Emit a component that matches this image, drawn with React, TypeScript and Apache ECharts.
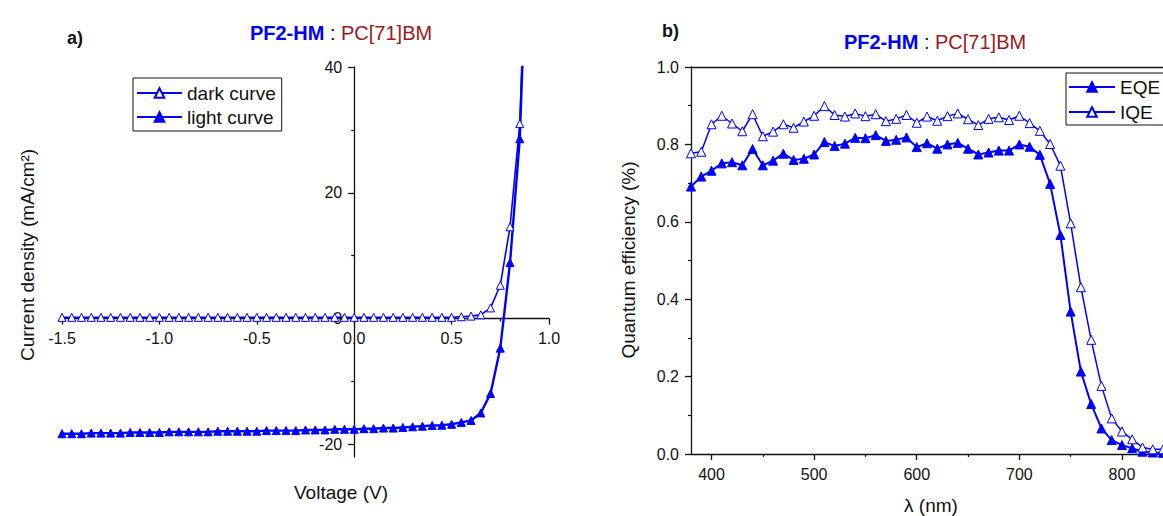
import React, { useEffect, useRef } from 'react';
import * as echarts from 'echarts';

// ---- Panel a) J–V curves ----
const voltage = [
  -1.5, -1.45, -1.4, -1.35, -1.3, -1.25, -1.2, -1.15, -1.1, -1.05,
  -1.0, -0.95, -0.9, -0.85, -0.8, -0.75, -0.7, -0.65, -0.6, -0.55,
  -0.5, -0.45, -0.4, -0.35, -0.3, -0.25, -0.2, -0.15, -0.1, -0.05,
  0.0, 0.05, 0.1, 0.15, 0.2, 0.25, 0.3, 0.35, 0.4, 0.45,
  0.5, 0.55, 0.6, 0.65, 0.7, 0.75, 0.8, 0.85, 0.9,
];
const darkCurve = [
  0.2, 0.2, 0.2, 0.2, 0.2, 0.2, 0.2, 0.2, 0.2, 0.2,
  0.2, 0.2, 0.2, 0.2, 0.2, 0.2, 0.2, 0.2, 0.2, 0.2,
  0.2, 0.2, 0.2, 0.2, 0.2, 0.2, 0.2, 0.2, 0.2, 0.2,
  0.2, 0.2, 0.2, 0.2, 0.2, 0.2, 0.2, 0.2, 0.2, 0.2,
  0.2, 0.3, 0.4, 0.6, 1.7, 5.3, 14.6, 31.0, 76,
];
const lightCurve = [
  -18.3, -18.3, -18.3, -18.2, -18.2, -18.2, -18.2, -18.1, -18.1, -18.1,
  -18.1, -18.0, -18.0, -18.0, -18.0, -18.0, -17.9, -17.9, -17.9, -17.9,
  -17.9, -17.8, -17.8, -17.8, -17.8, -17.7, -17.7, -17.7, -17.6, -17.6,
  -17.6, -17.5, -17.5, -17.4, -17.4, -17.3, -17.2, -17.1, -17.0, -16.95,
  -16.8, -16.5, -16.2, -15.0, -11.9, -4.7, 8.9, 28.6, 72,
];
const ivYTicks = [-20, 0, 20, 40];
const ivYMinorTicks = [-10, 10, 30];

// ---- Panel b) quantum efficiency ----
const wavelength = [
  380, 390, 400, 410, 420, 430, 440, 450, 460, 470,
  480, 490, 500, 510, 520, 530, 540, 550, 560, 570,
  580, 590, 600, 610, 620, 630, 640, 650, 660, 670,
  680, 690, 700, 710, 720, 730, 740, 750, 760, 770,
  780, 790, 800, 810, 820, 830, 840,
];
const eqe = [
  0.691, 0.717, 0.732, 0.751, 0.754, 0.746, 0.788, 0.746, 0.758, 0.776,
  0.760, 0.763, 0.774, 0.806, 0.796, 0.802, 0.817, 0.816, 0.824, 0.809,
  0.812, 0.818, 0.793, 0.803, 0.789, 0.800, 0.804, 0.789, 0.774, 0.779,
  0.784, 0.784, 0.800, 0.794, 0.773, 0.698, 0.566, 0.368, 0.213, 0.129,
  0.066, 0.036, 0.023, 0.015, 0.006, 0.004, 0.003,
];
const iqe = [
  0.777, 0.781, 0.852, 0.874, 0.854, 0.834, 0.878, 0.821, 0.833, 0.852,
  0.843, 0.859, 0.874, 0.899, 0.876, 0.872, 0.880, 0.873, 0.878, 0.860,
  0.866, 0.876, 0.856, 0.872, 0.861, 0.873, 0.880, 0.865, 0.850, 0.866,
  0.870, 0.863, 0.874, 0.855, 0.835, 0.801, 0.745, 0.596, 0.431, 0.295,
  0.176, 0.092, 0.058, 0.038, 0.017, 0.012, 0.012,
];
const qeXTicks = [400, 500, 600, 700, 800];
const qeXMinorTicks = [450, 550, 650, 750];

const BLUE = '#0000ff';
const RED = '#9a1a1a';
const INK = '#111111';
const FONT = '"Liberation Sans", Arial, Helvetica, sans-serif';

// panel a) plot area (axes cross at the origin)
const IV_LEFT = 62;
const IV_WIDTH = 487;
const IV_TOP = 67;
const IV_HEIGHT = 390;
const IV_X = [-1.5, 1.0];
const IV_Y = [-22, 40];

export default function App() {
  const ref = useRef<HTMLDivElement>(null);

  useEffect(() => {
    document.body.style.margin = '0';
    const chart = echarts.init(ref.current as HTMLDivElement, null, { renderer: 'svg' });
    const pairs = (xs: number[], ys: number[]) => xs.map((x, i) => [x, ys[i]]);

    // offsets that put panel a)'s axes through the origin
    const yAxisOffset = -IV_WIDTH * (0 - IV_X[0]) / (IV_X[1] - IV_X[0]);
    const xAxisOffset = -IV_HEIGHT * (0 - IV_Y[0]) / (IV_Y[1] - IV_Y[0]);

    const axisLine = { lineStyle: { color: INK, width: 1.3 } };
    const tickStyle = { lineStyle: { color: INK, width: 1.3 } };
    const minorStyle = { lineStyle: { color: INK, width: 1.2 } };
    const labelStyle = { color: INK, fontSize: 16, fontFamily: FONT, margin: 12 };

    const openTri = { color: '#ffffff', borderColor: BLUE, borderWidth: 1 };
    const fullTri = { color: BLUE, borderColor: BLUE, borderWidth: 1 };

    const titleRich = {
      b: { fontWeight: 'bold', fill: BLUE, fontSize: 20, fontFamily: FONT },
      k: { fill: INK, fontSize: 20, fontFamily: FONT },
      r: { fill: RED, fontSize: 20, fontFamily: FONT },
    };

    const option: any = {
      animation: false,
      backgroundColor: '#ffffff',
      textStyle: { fontFamily: FONT },
      grid: [
        { left: IV_LEFT, width: IV_WIDTH, top: IV_TOP, height: IV_HEIGHT },
        { left: 691, width: 472, top: 67, height: 387 },
      ],
      xAxis: [
        {
          gridIndex: 0, type: 'value', min: IV_X[0], max: IV_X[1], interval: 0.5,
          position: 'bottom', offset: xAxisOffset,
          axisLine: { onZero: false, ...axisLine },
          axisTick: { length: 6, ...tickStyle },
          minorTick: { show: true, splitNumber: 2, length: 3, ...minorStyle },
          axisLabel: { ...labelStyle, formatter: (v: number) => v.toFixed(1) },
          splitLine: { show: false },
        },
        {
          gridIndex: 1, type: 'value', min: 380, max: 840, position: 'bottom',
          axisLine: { onZero: false, ...axisLine },
          axisTick: { customValues: qeXTicks, length: 6, ...tickStyle },
          axisLabel: { ...labelStyle, customValues: qeXTicks },
          splitLine: { show: false },
        },
        {
          gridIndex: 1, type: 'value', min: 380, max: 840, position: 'bottom',
          axisLine: { show: false, onZero: false },
          axisTick: { customValues: qeXMinorTicks, length: 3, ...minorStyle },
          axisLabel: { show: false },
          splitLine: { show: false },
        },
        {
          gridIndex: 1, type: 'value', min: 380, max: 840, position: 'top',
          axisLine: { show: true, onZero: false, ...axisLine },
          axisTick: { show: false },
          axisLabel: { show: false },
          splitLine: { show: false },
        },
      ],
      yAxis: [
        {
          gridIndex: 0, type: 'value', min: IV_Y[0], max: IV_Y[1],
          position: 'left', offset: yAxisOffset,
          axisLine: { onZero: false, ...axisLine },
          axisTick: { customValues: ivYTicks, length: 6, ...tickStyle },
          axisLabel: { ...labelStyle, customValues: ivYTicks },
          splitLine: { show: false },
        },
        {
          gridIndex: 0, type: 'value', min: IV_Y[0], max: IV_Y[1],
          position: 'left', offset: yAxisOffset,
          axisLine: { show: false, onZero: false },
          axisTick: { customValues: ivYMinorTicks, length: 3, ...minorStyle },
          axisLabel: { show: false },
          splitLine: { show: false },
        },
        {
          gridIndex: 1, type: 'value', min: 0, max: 1, interval: 0.2,
          axisLine: { onZero: false, ...axisLine },
          axisTick: { length: 6, ...tickStyle },
          minorTick: { show: true, splitNumber: 2, length: 3, ...minorStyle },
          axisLabel: { ...labelStyle, formatter: (v: number) => v.toFixed(1) },
          splitLine: { show: false },
        },
      ],
      legend: [
        {
          data: ['dark curve', 'light curve'],
          orient: 'vertical', left: 133, top: 78,
          itemWidth: 45, itemHeight: 12, itemGap: 4,
          padding: [5, 6, 4, 3],
          borderColor: INK, borderWidth: 1, borderRadius: 0, backgroundColor: '#ffffff',
          textStyle: { fontSize: 19, fontFamily: FONT, color: INK, lineHeight: 20 },
          selectedMode: false,
        },
        {
          data: ['EQE', 'IQE'],
          orient: 'vertical', left: 1066, top: 73,
          itemWidth: 46, itemHeight: 12, itemGap: 5,
          padding: [4, 40, 3, 2],
          borderColor: INK, borderWidth: 1, borderRadius: 0, backgroundColor: '#ffffff',
          textStyle: { fontSize: 19, fontFamily: FONT, color: INK, lineHeight: 20 },
          selectedMode: false,
        },
      ],
      series: [
        {
          type: 'line', name: 'dark curve', xAxisIndex: 0, yAxisIndex: 0,
          data: pairs(voltage, darkCurve),
          symbol: 'triangle', symbolSize: 8, showSymbol: true, showAllSymbol: true,
          lineStyle: { color: BLUE, width: 1.6 }, itemStyle: openTri,
        },
        {
          type: 'line', name: 'light curve', xAxisIndex: 0, yAxisIndex: 0,
          data: pairs(voltage, lightCurve),
          symbol: 'triangle', symbolSize: 8, showSymbol: true, showAllSymbol: true,
          lineStyle: { color: BLUE, width: 2.4 }, itemStyle: fullTri,
        },
        {
          type: 'line', name: 'EQE', xAxisIndex: 1, yAxisIndex: 2,
          data: pairs(wavelength, eqe),
          symbol: 'triangle', symbolSize: 9, showSymbol: true, showAllSymbol: true,
          lineStyle: { color: BLUE, width: 2 }, itemStyle: fullTri,
        },
        {
          type: 'line', name: 'IQE', xAxisIndex: 1, yAxisIndex: 2,
          data: pairs(wavelength, iqe),
          symbol: 'triangle', symbolSize: 9, showSymbol: true, showAllSymbol: true,
          lineStyle: { color: BLUE, width: 1.5 }, itemStyle: openTri,
        },
      ],
      graphic: [
        {
          type: 'text', x: 341, y: 33,
          style: { text: '{b|PF2-HM}{k| : }{r|PC[71]BM}', rich: titleRich, align: 'center', verticalAlign: 'middle' },
        },
        {
          type: 'text', x: 935, y: 42,
          style: { text: '{b|PF2-HM}{k| : }{r|PC[71]BM}', rich: titleRich, align: 'center', verticalAlign: 'middle' },
        },
        {
          type: 'text', x: 67, y: 38,
          style: { text: 'a)', fontSize: 18, fontWeight: 'bold', fontFamily: FONT, fill: INK, align: 'left', verticalAlign: 'middle' },
        },
        {
          type: 'text', x: 662, y: 31,
          style: { text: 'b)', fontSize: 18, fontWeight: 'bold', fontFamily: FONT, fill: INK, align: 'left', verticalAlign: 'middle' },
        },
        {
          type: 'text', x: 341, y: 492,
          style: { text: 'Voltage (V)', fontSize: 19, fontFamily: FONT, fill: INK, align: 'center', verticalAlign: 'middle' },
        },
        {
          type: 'text', x: 931, y: 505,
          style: { text: 'λ (nm)', fontSize: 19, fontFamily: FONT, fill: INK, align: 'center', verticalAlign: 'middle' },
        },
        {
          type: 'text', x: 27, y: 255, rotation: Math.PI / 2,
          style: { text: 'Current density (mA/cm²)', fontSize: 19, fontFamily: FONT, fill: INK, align: 'center', verticalAlign: 'middle' },
        },
        {
          type: 'text', x: 628, y: 260, rotation: Math.PI / 2,
          style: { text: 'Quantum efficiency (%)', fontSize: 19, fontFamily: FONT, fill: INK, align: 'center', verticalAlign: 'middle' },
        },
      ],
    };

    chart.setOption(option);
    return () => chart.dispose();
  }, []);

  return <div ref={ref} style={{ width: 1163, height: 516 }} />;
}
